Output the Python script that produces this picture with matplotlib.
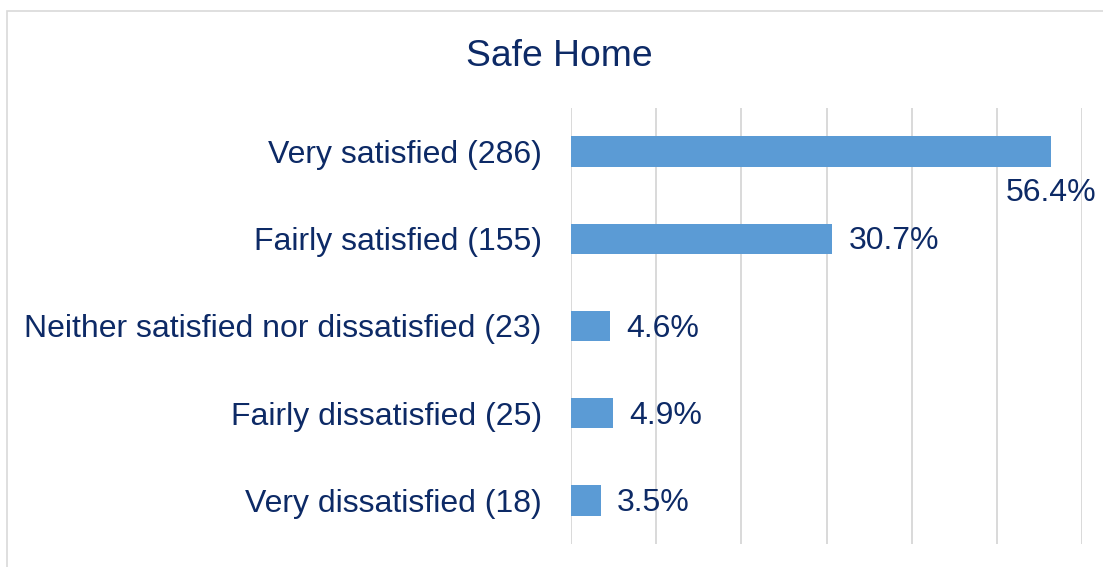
import matplotlib.pyplot as plt
from matplotlib.patches import Rectangle

plt.rcParams['font.family'] = ['Liberation Sans', 'DejaVu Sans']

# data
categories = ["Very satisfied", "Fairly satisfied", "Neither satisfied nor dissatisfied",
              "Fairly dissatisfied", "Very dissatisfied"]
counts = [286, 155, 23, 25, 18]
percents = [56.4, 30.7, 4.6, 4.9, 3.5]
x_ticks = [0, 10, 20, 30, 40, 50, 60]

navy = "#0D2A66"
bar_color = "#5B9BD5"
grid_color = "#D9D9D9"

fig = plt.figure(figsize=(11.03, 5.67), dpi=100)
ax = fig.add_axes([571 / 1103, 1 - 544 / 567, (1082 - 571) / 1103, (544 - 108) / 567])

# outer chart border (runs off the right/bottom edge like the original)
fig.patches.append(Rectangle((7 / 1103, -0.05), 1.2, 1 - 11 / 567 + 0.05,
                             transform=fig.transFigure, fill=False,
                             edgecolor=grid_color, lw=1.2))

y = list(range(len(categories)))
ax.barh(y, percents, height=0.35, color=bar_color, zorder=3)

ax.set_xlim(0, 60)
ax.set_ylim(len(categories) - 0.5, -0.5)
ax.set_xticks(x_ticks)
ax.tick_params(axis='x', length=0, labelbottom=False)
ax.grid(axis='x', color=grid_color, lw=1.4, zorder=0)
for s in ax.spines.values():
    s.set_visible(False)

ax.set_yticks(y)
ax.set_yticklabels([f"{c} ({n})" for c, n in zip(categories, counts)],
                   fontsize=23.0, color=navy)
ax.tick_params(axis='y', length=0, pad=21)

for i, p in enumerate(percents):
    if p > 50:
        ax.text(p, i + 0.47, f"{p}%", ha='center', va='center', fontsize=23.0, color=navy)
    else:
        ax.text(p + 1.9, i + 0.03, f"{p}%", ha='left', va='center', fontsize=23.0, color=navy)

fig.text(559 / 1103, 1 - 56 / 567, "Safe Home", ha='center', va='center',
         fontsize=26.8, color=navy)

fig.savefig("out.png", dpi=100, facecolor='white')
